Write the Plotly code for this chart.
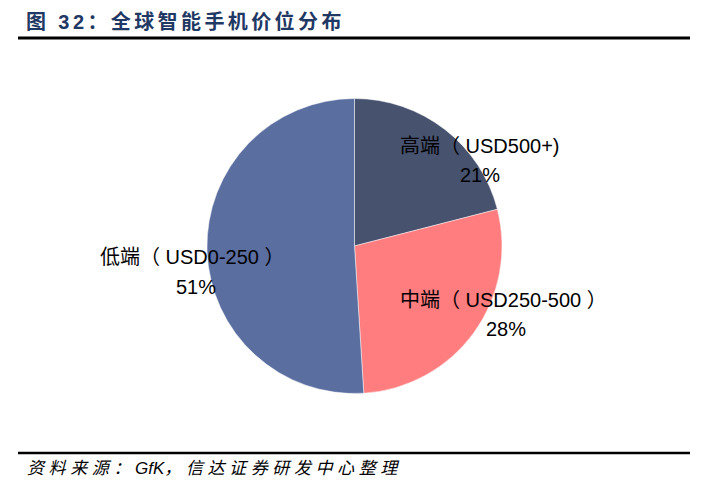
import plotly.graph_objects as go

# price tiers of smartphones (GfK)
tiers = ["高端（ USD500+)", "中端（ USD250-500 ）", "低端（ USD0-250 ）"]
shares = [21, 28, 51]
colors = ["#47526f", "#ff7c7f", "#5b6ea0"]

title = "图 32：全球智能手机价位分布"
source_a = "资料来源："
source_b = "GfK"
source_c = "，信达证券研发中心整理"

W, H = 715, 484
# label centres in pixels: (x, y name line, y percent line)
label_pos = [(480, 146, 175), (503, 300, 329), (193, 257, 287)]
pct_dx = [0, 3, 3]

fig = go.Figure()
fig.add_trace(go.Pie(
    labels=tiers,
    values=shares,
    sort=False,
    direction="clockwise",
    rotation=0,
    textinfo="none",
    hoverinfo="label+percent",
    marker=dict(colors=colors, line=dict(color="rgba(255,255,255,0.6)", width=0.8)),
    domain=dict(x=[207 / W, 502 / W], y=[1 - 394 / H, 1 - 98 / H]),
    showlegend=False,
))

lab_font = dict(family="Liberation Sans, Arial, Noto Sans CJK SC", size=20, color="#000000")
for name, val, (px, py1, py2), dx in zip(tiers, shares, label_pos, pct_dx):
    fig.add_annotation(text=name, x=px / W, y=1 - py1 / H, xref="paper", yref="paper",
                       showarrow=False, xanchor="center", yanchor="middle", font=lab_font)
    fig.add_annotation(text=f"{val}%", x=(px + dx) / W, y=1 - py2 / H, xref="paper", yref="paper",
                       showarrow=False, xanchor="center", yanchor="middle", font=lab_font)

# header and footer
fig.add_annotation(text=f'<b><span style="letter-spacing:3.4px">{title}</span></b>',
                   x=24 / W, y=1 - 21 / H, xref="paper", yref="paper", showarrow=False,
                   xanchor="left", yanchor="middle",
                   font=dict(family="Liberation Sans, Arial, Noto Sans CJK SC", size=20, color="#1f3864"))
sp = '<span style="letter-spacing:4.6px">{}</span>'
fig.add_annotation(text="<i>" + sp.format(source_a) + source_b + sp.format(source_c) + "</i>",
                   x=25 / W, y=1 - 468 / H, xref="paper", yref="paper", showarrow=False,
                   xanchor="left", yanchor="middle",
                   font=dict(family="Liberation Sans, Arial, Noto Sans CJK SC", size=17, color="#000000"))

fig.add_shape(type="line", xref="paper", yref="paper", x0=18 / W, x1=690 / W,
              y0=1 - 38 / H, y1=1 - 38 / H, line=dict(color="#000000", width=3))
fig.add_shape(type="line", xref="paper", yref="paper", x0=18 / W, x1=690 / W,
              y0=1 - 453 / H, y1=1 - 453 / H, line=dict(color="#000000", width=2.5))

fig.update_layout(width=W, height=H, margin=dict(l=0, r=0, t=0, b=0),
                  paper_bgcolor="white", plot_bgcolor="white")
fig.write_html("out.html", config={"displayModeBar": False},
               post_script="document.body.style.margin='0';")
